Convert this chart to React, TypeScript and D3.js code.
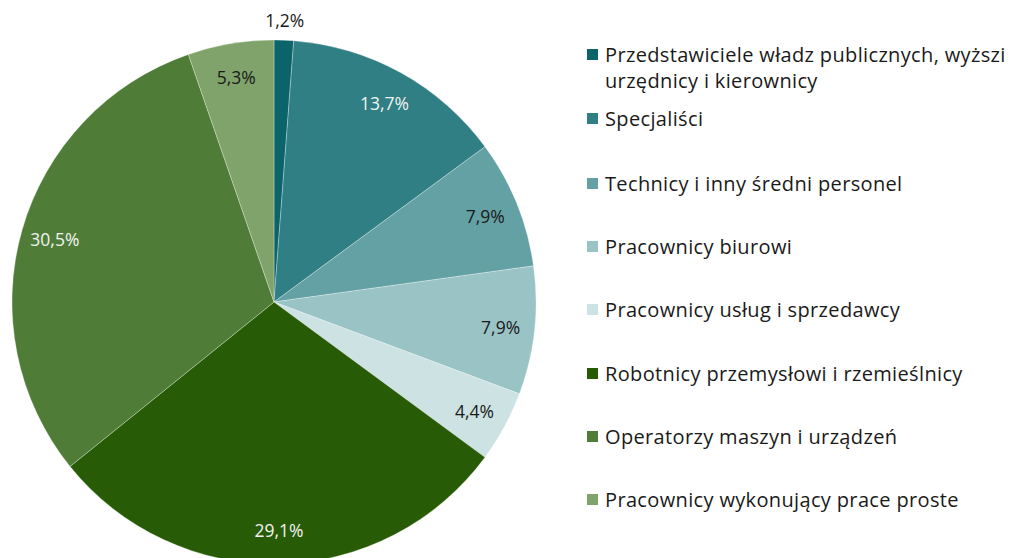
import React from 'react';
import { pie, arc } from 'd3';

const categories = [
  'Przedstawiciele władz publicznych, wyższi urzędnicy i kierownicy',
  'Specjaliści',
  'Technicy i inny średni personel',
  'Pracownicy biurowi',
  'Pracownicy usług i sprzedawcy',
  'Robotnicy przemysłowi i rzemieślnicy',
  'Operatorzy maszyn i urządzeń',
  'Pracownicy wykonujący prace proste',
];
const legendLines = [
  ['Przedstawiciele władz publicznych, wyższi', 'urzędnicy i kierownicy'],
  ['Specjaliści'],
  ['Technicy i inny średni personel'],
  ['Pracownicy biurowi'],
  ['Pracownicy usług i sprzedawcy'],
  ['Robotnicy przemysłowi i rzemieślnicy'],
  ['Operatorzy maszyn i urządzeń'],
  ['Pracownicy wykonujący prace proste'],
];
const values = [1.2, 13.7, 7.9, 7.9, 4.4, 29.1, 30.5, 5.3];
const colors = ['#0b6469', '#2f7f84', '#63a1a5', '#99c3c5', '#cde2e3', '#275b05', '#4f7d37', '#80a36b'];
const labelColors = ['#1a1a1a', '#f2f2f2', '#1a1a1a', '#1a1a1a', '#1a1a1a', '#f2f2f2', '#f2f2f2', '#1a1a1a'];

const W = 1011;
const H = 558;
const cx = 274;
const cy = 302;
const R = 262;
const FONT = "'Open Sans', 'Noto Sans', sans-serif";

const fmt = (v: number) => v.toFixed(1).replace('.', ',') + '%';

export default function App() {
  const slices = pie<number>().sort(null).value((d) => d)(values);
  const sliceArc = arc<any>().innerRadius(0).outerRadius(R);
  const labelArc = arc<any>().innerRadius(228).outerRadius(228);
  const outerLabelArc = arc<any>().innerRadius(282).outerRadius(282);

  const legendY = [54, 118, 183, 246, 309, 373, 436, 499];

  return (
    <svg width={W} height={H} style={{ position: 'absolute', left: 0, top: 0 }} fontFamily={FONT}>
      <g transform={`translate(${cx},${cy})`}>
        {slices.map((s, i) => (
          <path key={i} d={sliceArc(s) as string} fill={colors[i]} stroke="#ffffff" strokeWidth={0.3} />
        ))}
        {slices.map((s, i) => {
          const small = values[i] < 3;
          const [x, y] = small ? outerLabelArc.centroid(s) : labelArc.centroid(s);
          return (
            <text key={i} x={x} y={y} textAnchor="middle" dominantBaseline="central"
              fontSize={17.5} fill={labelColors[i]}>
              {fmt(values[i])}
            </text>
          );
        })}
      </g>
      <g>
        {categories.map((c, i) => (
          <g key={c} transform={`translate(587,${legendY[i]})`}>
            <rect x={0} y={-5} width={11} height={11} fill={colors[i]} />
            {legendLines[i].map((line, j) => (
              <text key={j} x={18} y={j * 26} dominantBaseline="central" fontSize={20}
                letterSpacing={0.35} fill="#1a1a1a">
                {line}
              </text>
            ))}
          </g>
        ))}
      </g>
    </svg>
  );
}
